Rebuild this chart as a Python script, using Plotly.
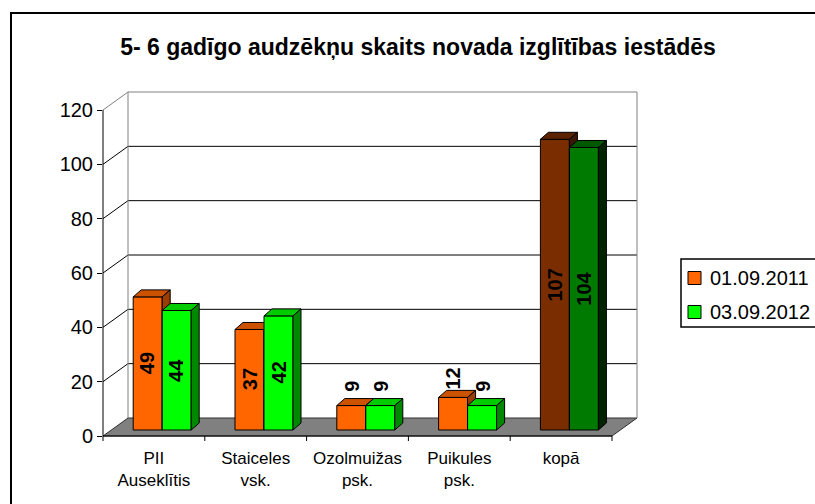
import plotly.graph_objects as go

# ---------------- data ----------------
categories = ["PII<br>Auseklītis", "Staiceles<br>vsk.", "Ozolmuižas<br>psk.", "Puikules<br>psk.", "kopā"]
series_names = ["01.09.2011", "03.09.2012"]
values_2011 = [49, 37, 9, 12, 107]
values_2012 = [44, 42, 9, 9, 104]
y_ticks = [0, 20, 40, 60, 80, 100, 120]
title_text = "5- 6 gadīgo audzēkņu skaits novada izglītības iestādēs"

# ---------------- style / geometry ----------------
W, H = 815, 504
PL, PR, PT, PB = 103, 645, 88, 436          # plot area in pixels
n = len(categories)
KX = 509.0 / n                               # px per category
KY = 326.0 / 120                             # px per value unit
XMIN = -0.5
XMAX = XMIN + (PR - PL) / KX
YMIN = 0.0
YMAX = (PB - PT) / KY

DEPTH_X, DEPTH_Y = 25 / KX, 18 / KY          # full 3D depth of the floor / walls
BAR_W = 29 / KX
BAR_SHIFT = 8.3 / KX                          # bars sit in the middle of the depth
BAR_BASE = 6 / KY
BAR_DX, BAR_DY = 8 / KX, 7 / KY               # bar depth
FONT = "Liberation Sans, Arial, sans-serif"

front_colors = [["#FF6600"] * 4 + ["#7A2E00"], ["#00FF00"] * 4 + ["#007A00"]]
top_colors = [["#CC5200"] * 4 + ["#5A2200"], ["#00CC00"] * 4 + ["#005800"]]
side_colors = [["#9A3D00"] * 4 + ["#3D1700"], ["#008800"] * 4 + ["#002400"]]
offsets = [BAR_SHIFT - BAR_W, BAR_SHIFT]


def px_x(p):
    return (p - PL) / (PR - PL)


def px_y(p):
    return (PB - p) / (PB - PT)


def dx_paper(xd):
    return (xd - XMIN) / (XMAX - XMIN)


def dy_paper(yd):
    return (yd - YMIN) / (YMAX - YMIN)


fig = go.Figure()
series_values = [values_2011, values_2012]
annotations = []

for s, vals in enumerate(series_values):
    xa, ya = ("x", "y") if s == 0 else ("x2", "y2")
    idx = list(range(n))
    fig.add_trace(go.Bar(
        x=idx, y=vals, base=BAR_BASE, width=BAR_W, offset=offsets[s],
        marker=dict(color=front_colors[s], line=dict(color="black", width=1)),
        name=series_names[s], xaxis=xa, yaxis=ya, showlegend=False, hoverinfo="skip",
    ))
    for i, v in enumerate(vals):
        x0 = i + offsets[s]
        x1 = x0 + BAR_W
        b = BAR_BASE
        t = BAR_BASE + v
        # top face
        fig.add_trace(go.Scatter(
            x=[x0, x1, x1 + BAR_DX, x0 + BAR_DX, x0],
            y=[t, t, t + BAR_DY, t + BAR_DY, t],
            mode="lines", fill="toself", fillcolor=top_colors[s][i],
            line=dict(color="black", width=1), xaxis=xa, yaxis=ya,
            showlegend=False, hoverinfo="skip"))
        # side face
        fig.add_trace(go.Scatter(
            x=[x1, x1, x1 + BAR_DX, x1 + BAR_DX, x1],
            y=[b, t, t + BAR_DY, b + BAR_DY, b],
            mode="lines", fill="toself", fillcolor=side_colors[s][i],
            line=dict(color="black", width=1), xaxis=xa, yaxis=ya,
            showlegend=False, hoverinfo="skip"))
        # value label
        if v >= 20:
            ly = BAR_BASE + v / 2
        else:
            ly = BAR_BASE + v + 19 / KY
        annotations.append(dict(
            x=(x0 + x1) / 2, y=ly, xref="x", yref="y", text=str(v),
            showarrow=False, textangle=-90, xanchor="center", yanchor="middle",
            font=dict(family=FONT, size=20, color="black", weight="bold")))

shapes = []
# outer border
shapes.append(dict(type="rect", xref="paper", yref="paper",
                   x0=px_x(11), y0=px_y(13), x1=px_x(900), y1=px_y(620),
                   line=dict(color="black", width=2), layer="below"))
# floor
fx0, fx1 = XMIN, XMIN + n
floor = [(fx0, 0), (fx1, 0), (fx1 + DEPTH_X, DEPTH_Y), (fx0 + DEPTH_X, DEPTH_Y)]
path = "M " + " L ".join(f"{dx_paper(a):.5f},{dy_paper(c):.5f}" for a, c in floor) + " Z"
shapes.append(dict(type="path", xref="paper", yref="paper", path=path,
                   fillcolor="#808080", line=dict(color="#303030", width=1), layer="below"))
# back wall gridlines + side diagonals
for v in y_ticks[1:]:
    col = "#808080" if v == y_ticks[-1] else "black"
    shapes.append(dict(type="line", xref="paper", yref="paper",
                       x0=dx_paper(fx0 + DEPTH_X), y0=dy_paper(v + DEPTH_Y),
                       x1=dx_paper(fx1 + DEPTH_X), y1=dy_paper(v + DEPTH_Y),
                       line=dict(color=col, width=1), layer="below"))
    shapes.append(dict(type="line", xref="paper", yref="paper",
                       x0=dx_paper(fx0), y0=dy_paper(v),
                       x1=dx_paper(fx0 + DEPTH_X), y1=dy_paper(v + DEPTH_Y),
                       line=dict(color=col, width=1), layer="below"))
# wall edges
for xe in (fx0 + DEPTH_X, fx1 + DEPTH_X):
    shapes.append(dict(type="line", xref="paper", yref="paper",
                       x0=dx_paper(xe), y0=dy_paper(DEPTH_Y),
                       x1=dx_paper(xe), y1=dy_paper(y_ticks[-1] + DEPTH_Y),
                       line=dict(color="#808080", width=1), layer="below"))
# front y axis line
shapes.append(dict(type="line", xref="paper", yref="paper",
                   x0=dx_paper(fx0), y0=dy_paper(0), x1=dx_paper(fx0), y1=dy_paper(y_ticks[-1]),
                   line=dict(color="black", width=1)))
# front floor edge + category tick marks
shapes.append(dict(type="line", xref="paper", yref="paper",
                   x0=dx_paper(fx0), y0=dy_paper(0), x1=dx_paper(fx1), y1=dy_paper(0),
                   line=dict(color="black", width=1)))
for k in range(n + 1):
    xb = XMIN + k
    shapes.append(dict(type="line", xref="paper", yref="paper",
                       x0=dx_paper(xb), y0=dy_paper(0), x1=dx_paper(xb), y1=px_y(PB + 5),
                       line=dict(color="black", width=1)))

# legend (drawn manually)
shapes.append(dict(type="rect", xref="paper", yref="paper",
                   x0=px_x(681), y0=px_y(259), x1=px_x(900), y1=px_y(327),
                   line=dict(color="black", width=1.5), fillcolor="white"))
legend_y = [278, 312]
for s in range(2):
    cy = legend_y[s]
    shapes.append(dict(type="rect", xref="paper", yref="paper",
                       x0=px_x(688), y0=px_y(cy - 6.5), x1=px_x(701), y1=px_y(cy + 6.5),
                       line=dict(color="black", width=1), fillcolor=front_colors[s][0]))
    annotations.append(dict(x=px_x(708), y=px_y(cy), xref="paper", yref="paper",
                            text=series_names[s], showarrow=False, xanchor="left",
                            yanchor="middle", font=dict(family=FONT, size=20, color="black")))

fig.update_layout(
    width=W, height=H, autosize=False,
    margin=dict(l=PL, r=W - PR, t=PT, b=H - PB, pad=0),
    paper_bgcolor="white", plot_bgcolor="rgba(0,0,0,0)",
    barmode="overlay", showlegend=False,
    title=dict(text="<b>" + title_text + "</b>", x=418 / W, xref="container",
               y=1 - 47 / H, yref="container", xanchor="center", yanchor="middle",
               font=dict(family=FONT, size=23, color="black")),
    xaxis=dict(range=[XMIN, XMAX], tickvals=list(range(n)), ticktext=categories,
               ticks="", showgrid=False, zeroline=False, showline=False,
               tickfont=dict(family=FONT, size=17, color="black"),
               ticklabelstandoff=10, fixedrange=True),
    yaxis=dict(range=[YMIN, YMAX], tickvals=y_ticks, ticks="outside", ticklen=5,
               tickcolor="black", tickwidth=1, showgrid=False, zeroline=False,
               showline=False, tickfont=dict(family=FONT, size=20, color="black"),
               fixedrange=True),
    xaxis2=dict(range=[XMIN, XMAX], overlaying="x", anchor="y2", visible=False, fixedrange=True),
    yaxis2=dict(range=[YMIN, YMAX], overlaying="y", anchor="x2", visible=False, fixedrange=True),
    shapes=shapes, annotations=annotations,
)

fig.write_html("out.html", config={"displayModeBar": False},
               post_script="document.body.style.margin='0';document.body.style.overflow='hidden';")
